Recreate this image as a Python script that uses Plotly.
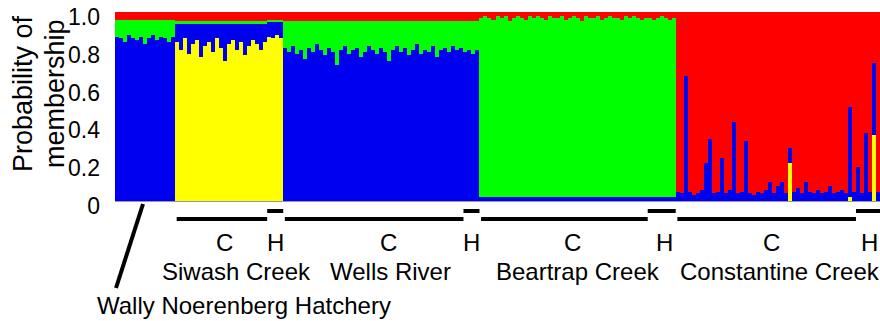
import plotly.graph_objects as go

# ---- data: STRUCTURE membership probabilities (4 clusters) ----
groups = ["Wally Noerenberg Hatchery", "Siwash C", "Siwash H", "Wells C", "Wells H",
          "Beartrap C", "Beartrap H", "Constantine C", "Constantine H"]
group_sizes = [15, 23, 4, 45, 4, 42, 7, 45, 6]

yellow = (
    [0] * 15
    + [.84, .80, .86, .78, .83, .85, .76, .82, .84, .79, .86, .81, .74, .83, .85, .80, .84, .77, .82, .85, .83, .80, .84]
    + [.87, .86, .88, .86]
    + [0] * 45
    + [0] * 4
    + [0] * 42
    + [0] * 7
    + [0, 0, 0, 0, 0, 0, 0, 0, 0, 0, 0, 0, 0, 0, 0, 0, 0, 0, 0, 0, 0, 0, 0, 0, 0, 0, 0, 0, .20, 0,
       0, 0, 0, 0, 0, 0, 0, 0, 0, 0, 0, 0, 0, .02, 0]
    + [0, 0, 0, 0, .35, 0]
)

blue = (
    [.87, .86, .84, .88, .86, .85, .87, .83, .86, .88, .85, .87, .86, .84, .87]
    + [.10, .14, .08, .16, .11, .09, .18, .12, .10, .15, .08, .13, .20, .11, .09, .14, .10, .17, .12, .09, .11, .14, .10]
    + [.08, .09, .07, .09]
    + [.81, .79, .82, .78, .80, .75, .81, .79, .83, .80,
       .77, .81, .79, .72, .80, .82, .78, .80, .81, .76,
       .79, .82, .80, .78, .81, .79, .74, .80, .82, .79,
       .81, .77, .80, .83, .78, .80, .79, .82, .76, .80,
       .81, .79, .82, .80, .81]
    + [.79, .80, .78, .80]
    + [.02] * 42
    + [.02] * 7
    + [.05, .04, .66, .05, .03, .04, .06, .20, .33, .04, .05, .23, .04, .06, .42, .04, .05, .32, .04, .03,
       .05, .04, .06, .10, .04, .08, .10, .04, .08, .05, .07, .04, .10, .05, .04, .06, .04, .05, .08, .04,
       .05, .06, .04, .48, .05]
    + [.18, .04, .36, .05, .38, .05]
)

green = (
    [.09, .10, .12, .08, .10, .11, .09, .13, .10, .08, .11, .09, .10, .12, .09]
    + [.01] * 23
    + [.01] * 4
    + [.14, .16, .13, .17, .15, .20, .14, .16, .12, .15,
       .18, .14, .16, .23, .15, .13, .17, .15, .14, .19,
       .16, .13, .15, .17, .14, .16, .21, .15, .13, .16,
       .14, .18, .15, .12, .17, .15, .16, .13, .19, .15,
       .14, .16, .13, .15, .14]
    + [.16, .15, .17, .15]
    + [.95, .96, .95, .94, .96, .95, .96, .93, .95, .96,
       .95, .94, .96, .95, .96, .95, .94, .96, .95, .95,
       .96, .94, .95, .96, .95, .93, .96, .95, .95, .96,
       .94, .95, .96, .95, .95, .94, .96, .95, .96, .95,
       .94, .95]
    + [.95, .94, .95, .96, .95, .94, .95]
    + [0] * 45
    + [0] * 6
)

red = (
    [.04] * 15
    + [.05] * 23
    + [.04] * 4
    + [.05] * 45
    + [.05] * 4
    + [.03, .02, .03, .04, .02, .03, .02, .05, .03, .02,
       .03, .04, .02, .03, .02, .03, .04, .02, .03, .03,
       .02, .04, .03, .02, .03, .05, .02, .03, .03, .02,
       .04, .03, .02, .03, .03, .04, .02, .03, .02, .03,
       .04, .03]
    + [.03, .04, .03, .02, .03, .04, .03]
    + [.95, .96, .34, .95, .97, .96, .94, .80, .67, .96, .95, .77, .96, .94, .58, .96, .95, .68, .96, .97,
       .95, .96, .94, .90, .96, .92, .90, .96, .72, .95, .93, .96, .90, .95, .96, .94, .96, .95, .92, .96,
       .95, .94, .96, .50, .95]
    + [.82, .96, .64, .95, .27, .95]
)

y_ticks = [0, 0.2, 0.4, 0.6, 0.8, 1.0]
y_tick_text = ["0", "0.2", "0.4", "0.6", "0.8", "1.0"]

sub_labels = ["C", "H", "C", "H", "C", "H", "C", "H"]
populations = ["Siwash Creek", "Wells River", "Beartrap Creek", "Constantine Creek"]
hatchery_label = "Wally Noerenberg Hatchery"
y_title = ["Probability of", "membership"]

# ---- style / layout ----
FONT = "Liberation Sans, Arial, sans-serif"
sub_label_shift = [3, 0, 15, 0, 9, 3, 6, 2]      # px nudges of C/H labels
pop_label_shift = [7, 9, 0, 2]                    # px nudges of population names

N = sum(group_sizes)
idx = list(range(N))

fig = go.Figure()
for vals, col in [(yellow, "#FFFF00"), (blue, "#0000F0"), (green, "#00FF00"), (red, "#FF0000")]:
    fig.add_bar(x=idx, y=vals, marker=dict(color=col, line=dict(width=0)),
                hoverinfo="skip", showlegend=False)

# plot area geometry (pixels) for placing the under-axis decorations
L, T, W, H = 115, 12, 765, 189
def py(ypix):
    return (T + H - ypix) / H
def px(xpix):
    return (xpix - L) / W

starts = []
s = 0
for g in group_sizes:
    starts.append(s)
    s += g
bounds = [(st - 0.5, st + g - 0.5) for st, g in zip(starts, group_sizes)]

txt = dict(family=FONT, size=24, color="black")
shapes = []
annotations = []
for k in range(1, len(groups)):
    x0, x1 = bounds[k]
    is_h = groups[k].endswith("H")
    yline = py(211) if is_h else py(219)
    shapes.append(dict(type="line", xref="x", yref="paper", x0=x0 + (0 if is_h else 0.4), x1=x1,
                       y0=yline, y1=yline, line=dict(color="black", width=4)))
    annotations.append(dict(xref="x", yref="paper", x=(x0 + x1) / 2, y=py(242),
                            xanchor="center", yanchor="middle", xshift=sub_label_shift[k - 1],
                            text=sub_labels[k - 1], showarrow=False, font=txt))

for p, name in enumerate(populations):
    x0 = bounds[1 + 2 * p][0]
    x1 = bounds[2 + 2 * p][1]
    annotations.append(dict(xref="x", yref="paper", x=(x0 + x1) / 2, y=py(271),
                            xanchor="center", yanchor="middle", xshift=pop_label_shift[p],
                            text=name, showarrow=False, font=txt))

annotations.append(dict(xref="paper", yref="paper", x=px(244), y=py(305), text=hatchery_label,
                        xanchor="center", yanchor="middle", showarrow=False, font=txt))
shapes.append(dict(type="line", xref="paper", yref="paper", x0=px(116), y0=py(288), x1=px(143), y1=py(204),
                   line=dict(color="black", width=4)))

for xpix, t in zip([23, 55], y_title):
    annotations.append(dict(xref="paper", yref="paper", x=px(xpix), y=py(94), text=t, textangle=-90,
                            xanchor="center", yanchor="middle", showarrow=False,
                            font=dict(family=FONT, size=27, color="black")))

fig.update_layout(
    width=880, height=321,
    margin=dict(l=L, r=880 - L - W, t=T, b=321 - T - H),
    barmode="stack", bargap=0,
    paper_bgcolor="white", plot_bgcolor="white",
    shapes=shapes, annotations=annotations,
    xaxis=dict(range=[-0.5, N - 0.5], showticklabels=False, ticks="", showgrid=False,
               zeroline=False, showline=True, linecolor="#999999", linewidth=1),
    yaxis=dict(range=[0, 1], tickvals=y_ticks, ticktext=y_tick_text, ticks="", showgrid=False,
               zeroline=False, showline=False, ticklabelstandoff=14, ticklabelshift=5,
               ticklabeloverflow="allow", automargin=False,
               tickfont=dict(family=FONT, size=23, color="black")),
)

fig.write_html("out.html", config={"displayModeBar": False},
               post_script="document.body.style.margin='0';")
